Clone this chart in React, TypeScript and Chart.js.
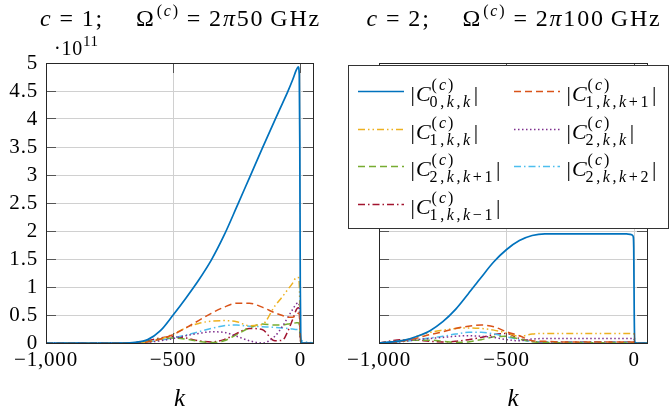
import React, { useEffect, useRef } from "react";
import { Chart, registerables } from "chart.js";

Chart.register(...registerables);

const SERIF = '"Liberation Serif", "DejaVu Serif", serif';

// sample positions k
const K = [-1000, -950, -900, -850, -800, -750, -700, -650, -600, -550, -500, -450, -400, -350, -300, -250, -200, -150, -100, -70, -50, -30, -15, -8, -4, -2, 0, 2, 5, 10, 20, 35, 50];

const X_TICKS = [-1000, -500, 0];
const X_TICK_LABELS = ["\u22121,000", "\u2212500", "0"];
const Y_TICKS = [0, 0.5, 1, 1.5, 2, 2.5, 3, 3.5, 4, 4.5, 5];
const Y_TICK_LABELS = ["0", "0.5", "1", "1.5", "2", "2.5", "3", "3.5", "4", "4.5", "5"];
const Y_EXPONENT = "11";

// legend subscripts (series order)
const LEGEND_SUBSCRIPTS = ["0,k,k", "1,k,k+1", "1,k,k", "2,k,k", "2,k,k+1", "2,k,k+2", "1,k,k\u22121"];

// panel c = 1, Omega = 2pi 50 GHz  (values in units of 1e11)
const C1_C0KK = [0, 0, 0, 0, 0, 0, 0, 0.01, 0.06, 0.22, 0.5, 0.8, 1.12, 1.48, 1.92, 2.43, 2.95, 3.47, 3.98, 4.28, 4.48, 4.7, 4.88, 4.93, 4.8, 3.6, 1.0, 0.05, 0.01, 0, 0, 0, 0];
const C1_C1KK1 = [0, 0, 0, 0, 0, 0, 0, 0.005, 0.02, 0.07, 0.15, 0.27, 0.4, 0.53, 0.64, 0.71, 0.71, 0.64, 0.54, 0.49, 0.46, 0.46, 0.5, 0.53, 0.52, 0.4, 0.15, 0.03, 0.01, 0, 0, 0, 0];
const C1_C1KK = [0, 0, 0, 0, 0, 0, 0, 0.005, 0.02, 0.07, 0.16, 0.27, 0.35, 0.39, 0.4, 0.38, 0.31, 0.33, 0.66, 0.83, 0.95, 1.07, 1.17, 1.17, 1.05, 0.7, 0.2, 0.03, 0.01, 0, 0, 0, 0];
const C1_C2KK = [0, 0, 0, 0, 0, 0, 0, 0.003, 0.015, 0.04, 0.08, 0.13, 0.17, 0.2, 0.19, 0.12, 0.04, 0.0, 0.12, 0.3, 0.45, 0.6, 0.7, 0.72, 0.65, 0.45, 0.12, 0.02, 0.005, 0, 0, 0, 0];
const C1_C2KK1 = [0, 0, 0, 0, 0, 0, 0, 0.005, 0.03, 0.07, 0.09, 0.07, 0.03, 0.01, 0.04, 0.15, 0.27, 0.34, 0.32, 0.32, 0.34, 0.35, 0.36, 0.36, 0.33, 0.25, 0.08, 0.02, 0.01, 0, 0, 0, 0];
const C1_C2KK2 = [0, 0, 0, 0, 0, 0, 0, 0.005, 0.02, 0.05, 0.09, 0.14, 0.2, 0.26, 0.31, 0.32, 0.3, 0.29, 0.28, 0.27, 0.26, 0.25, 0.24, 0.24, 0.24, 0.22, 0.15, 0.08, 0.05, 0.03, 0.02, 0.01, 0.005];
const C1_C1KKM1 = [0, 0, 0, 0, 0, 0, 0, 0.005, 0.04, 0.09, 0.11, 0.09, 0.04, 0.02, 0.06, 0.17, 0.26, 0.24, 0.04, 0.05, 0.2, 0.42, 0.6, 0.63, 0.58, 0.4, 0.1, 0.02, 0.005, 0, 0, 0, 0];

// panel c = 2, Omega = 2pi 100 GHz
const C2_C0KK = [0, 0.02, 0.05, 0.12, 0.22, 0.38, 0.6, 0.88, 1.17, 1.45, 1.67, 1.83, 1.92, 1.95, 1.95, 1.95, 1.95, 1.95, 1.95, 1.95, 1.95, 1.95, 1.94, 1.93, 1.9, 1.7, 0.5, 0.03, 0.005, 0, 0, 0, 0];
const C2_C1KK1 = [0, 0.01, 0.04, 0.09, 0.15, 0.2, 0.26, 0.3, 0.32, 0.29, 0.2, 0.13, 0.04, 0.03, 0.02, 0.02, 0.02, 0.02, 0.02, 0.02, 0.02, 0.02, 0.02, 0.02, 0.02, 0.015, 0.01, 0, 0, 0, 0, 0, 0];
const C2_C1KK = [0, 0.02, 0.05, 0.12, 0.19, 0.23, 0.26, 0.27, 0.26, 0.23, 0.18, 0.12, 0.16, 0.17, 0.17, 0.17, 0.17, 0.17, 0.17, 0.17, 0.17, 0.17, 0.17, 0.17, 0.17, 0.16, 0.12, 0.06, 0.01, 0, 0, 0, 0];
const C2_C2KK = [0, 0.01, 0.03, 0.06, 0.08, 0.1, 0.12, 0.13, 0.12, 0.1, 0.06, 0.04, 0.07, 0.08, 0.08, 0.08, 0.08, 0.08, 0.08, 0.08, 0.08, 0.08, 0.08, 0.08, 0.08, 0.08, 0.06, 0.03, 0, 0, 0, 0, 0];
const C2_C2KK1 = [0, 0.02, 0.04, 0.05, 0.05, 0.03, 0.01, 0.02, 0.06, 0.11, 0.12, 0.07, 0.02, 0.01, 0.005, 0.005, 0.005, 0.005, 0.005, 0.005, 0.005, 0.005, 0.005, 0.005, 0.005, 0.005, 0.003, 0, 0, 0, 0, 0, 0];
const C2_C2KK2 = [0, 0.01, 0.03, 0.06, 0.09, 0.12, 0.16, 0.19, 0.19, 0.16, 0.11, 0.06, 0.03, 0.02, 0.015, 0.015, 0.015, 0.015, 0.015, 0.015, 0.015, 0.015, 0.015, 0.015, 0.015, 0.015, 0.012, 0.008, 0.004, 0, 0, 0, 0];
const C2_C1KKM1 = [0, 0.04, 0.06, 0.05, 0.03, 0.02, 0.03, 0.06, 0.1, 0.15, 0.17, 0.08, 0.03, 0.02, 0.02, 0.02, 0.02, 0.02, 0.02, 0.02, 0.02, 0.02, 0.02, 0.02, 0.02, 0.02, 0.01, 0, 0, 0, 0, 0, 0];

const PANEL_C = ["1", "2"];
const PANEL_FREQ = ["50", "100"];

// styles
const COLORS = ["#0072bd", "#d95319", "#edb120", "#7e2f8e", "#77ac30", "#4dbeee", "#a2142f"];
const DASHES: number[][] = [[], [7, 4], [7, 3, 1.5, 3, 1.5, 3], [1.5, 2.5], [7, 4], [7, 3, 1.5, 3], [7, 3, 1.5, 3]];
const GRID = "#d0d0d0";
const TICK_COLOR = "#555555";
const FRAME = "#262626";
const TL = 10;

type Run = { t: string; size: number; it?: boolean; dy?: number; gap?: number; ls?: number };

function setFont(ctx: CanvasRenderingContext2D, r: Run) {
  ctx.font = `${r.it ? "italic " : ""}${r.size}px ${SERIF}`;
  (ctx as any).letterSpacing = `${r.ls || 0}px`;
}
function runsWidth(ctx: CanvasRenderingContext2D, runs: Run[]) {
  let w = 0;
  for (const r of runs) {
    setFont(ctx, r);
    w += (r.gap || 0) + ctx.measureText(r.t).width;
  }
  (ctx as any).letterSpacing = "0px";
  return w;
}
function drawRuns(ctx: CanvasRenderingContext2D, runs: Run[], x: number, y: number) {
  let cx = x;
  for (const r of runs) {
    cx += r.gap || 0;
    setFont(ctx, r);
    ctx.fillText(r.t, cx, y + (r.dy || 0));
    cx += ctx.measureText(r.t).width;
  }
  (ctx as any).letterSpacing = "0px";
  return cx;
}
function scriptRuns(s: string, size: number, ls: number): Run[] {
  return s.split("").map((ch) => ({ t: ch, size, it: /[a-z]/.test(ch), ls }));
}

function alignPx(p: number) {
  return Math.round(p - 0.5) + 0.5;
}

// wider tick lettering, closer to the Computer Modern look
const spacingPlugin = {
  id: "spacing",
  beforeDraw(chart: any) { (chart.ctx as any).letterSpacing = "0.8px"; },
  beforeDatasetsDraw(chart: any) { (chart.ctx as any).letterSpacing = "0px"; },
};

const framePlugin = {
  id: "frame",
  afterDatasetsDraw(chart: any) {
    const { ctx, chartArea: a, scales } = chart;
    ctx.save();
    ctx.lineWidth = 1;
    ctx.setLineDash([]);
    ctx.strokeStyle = TICK_COLOR;
    ctx.beginPath();
    for (const v of Y_TICKS) {
      const py = alignPx(scales.y.getPixelForValue(v));
      ctx.moveTo(a.left, py);
      ctx.lineTo(a.left + TL, py);
      ctx.moveTo(a.right - TL, py);
      ctx.lineTo(a.right, py);
    }
    for (const v of X_TICKS) {
      const px = alignPx(scales.x.getPixelForValue(v));
      ctx.moveTo(px, a.bottom);
      ctx.lineTo(px, a.bottom - TL);
      ctx.moveTo(px, a.top);
      ctx.lineTo(px, a.top + TL);
    }
    ctx.stroke();
    ctx.strokeStyle = FRAME;
    const l = alignPx(a.left), r = alignPx(a.right), t = alignPx(a.top), b = alignPx(a.bottom);
    ctx.strokeRect(l, t, r - l, b - t);
    ctx.restore();
  },
};

function makeTextPlugin(panel: number) {
  return {
    id: "texts" + panel,
    afterDraw(chart: any) {
      const { ctx, chartArea: a } = chart;
      ctx.save();
      ctx.fillStyle = "#000";
      ctx.textBaseline = "alphabetic";
      ctx.textAlign = "left";
      // title
      const T = 24, S = 16, LS = 1.8;
      const title: Run[] = [
        { t: "c", size: T, it: true, ls: LS },
        { t: "=", size: T, gap: 7, ls: LS },
        { t: PANEL_C[panel] + ";", size: T, gap: 7, ls: LS },
        { t: "\u03a9", size: T, gap: 32, ls: LS },
        { t: "(", size: S, dy: -10, gap: 1, ls: LS },
        { t: "c", size: S, it: true, dy: -10, ls: LS },
        { t: ")", size: S, dy: -10, ls: LS },
        { t: "=", size: T, gap: 7, ls: LS },
        { t: "2", size: T, gap: 7, ls: LS },
        { t: "\u03c0", size: T, it: true, ls: LS },
        { t: PANEL_FREQ[panel], size: T, ls: LS },
        { t: "GHz", size: T, gap: 6, ls: LS },
      ];
      const tw = runsWidth(ctx, title);
      drawRuns(ctx, title, (a.left + a.right) / 2 - tw / 2 + 1, 26);
      // k axis label
      (ctx as any).letterSpacing = "0px";
      ctx.font = `italic 25px ${SERIF}`;
      ctx.textAlign = "center";
      ctx.fillText("k", (a.left + a.right) / 2, 406);
      ctx.textAlign = "left";
      if (panel === 0) {
        drawRuns(ctx, [
          { t: "\u00b710", size: 20, ls: 0.8 },
          { t: Y_EXPONENT, size: 15, dy: -9, ls: 0.6 },
        ], 54, 55);
      } else {
        // legend
        const bx = 13.5, by = 65.5, bw = 320, bh = 163;
        ctx.fillStyle = "#fff";
        ctx.fillRect(bx, by, bw, bh);
        ctx.strokeStyle = "#333";
        ctx.lineWidth = 1;
        ctx.setLineDash([]);
        ctx.strokeRect(bx, by, bw, bh);
        for (let i = 0; i < LEGEND_SUBSCRIPTS.length; i++) {
          const col = i % 2, row = Math.floor(i / 2);
          const lx = col ? 179 : 23;
          const ly = Math.round(90.7 + 37.8 * row) + 0.5;
          ctx.strokeStyle = COLORS[i];
          ctx.lineWidth = 1.5;
          ctx.setLineDash(DASHES[i]);
          ctx.beginPath();
          ctx.moveTo(lx, ly);
          ctx.lineTo(lx + 46, ly);
          ctx.stroke();
          ctx.setLineDash([]);
          ctx.fillStyle = "#000";
          const tx = col ? 231.5 : 75.5;
          const base = ly + 9;
          let x = drawRuns(ctx, [{ t: "|", size: 22 }], tx, base);
          x = drawRuns(ctx, [{ t: "C", size: 22, it: true, gap: 1 }], x, base);
          const supEnd = drawRuns(ctx, [
            { t: "(", size: 16, ls: 2 },
            { t: "c", size: 16, it: true, ls: 2 },
            { t: ")", size: 16, ls: 2 },
          ], x + 1, base - 11);
          const subEnd = drawRuns(ctx, scriptRuns(LEGEND_SUBSCRIPTS[i], 16, 2.6), x - 1, base + 6);
          drawRuns(ctx, [{ t: "|", size: 22 }], Math.max(supEnd, subEnd) + 1, base);
        }
      }
      ctx.restore();
    },
  };
}

function makeConfig(panel: number): any {
  const series = panel === 0
    ? [C1_C0KK, C1_C1KK1, C1_C1KK, C1_C2KK, C1_C2KK1, C1_C2KK2, C1_C1KKM1]
    : [C2_C0KK, C2_C1KK1, C2_C1KK, C2_C2KK, C2_C2KK1, C2_C2KK2, C2_C1KKM1];
  const yWidth = panel === 0 ? 46 : 44;
  const padRight = panel === 0 ? 22 : 23;
  return {
    type: "line",
    data: {
      datasets: series.map((vals, i) => ({
        label: LEGEND_SUBSCRIPTS[i],
        data: K.map((k, j) => ({ x: k, y: vals[j] })),
        borderColor: COLORS[i],
        borderWidth: i === 0 ? 1.7 : 1.5,
        borderDash: DASHES[i],
        pointRadius: 0,
        fill: false,
        cubicInterpolationMode: "monotone",
      })),
    },
    options: {
      animation: false,
      responsive: true,
      maintainAspectRatio: false,
      layout: { padding: { left: 0, right: padRight, top: 63, bottom: 0 } },
      plugins: { legend: { display: false }, tooltip: { enabled: false }, title: { display: false } },
      scales: {
        x: {
          type: "linear",
          min: -1000,
          max: 50,
          afterBuildTicks: (s: any) => { s.ticks = X_TICKS.map((v) => ({ value: v })); },
          afterFit: (s: any) => { s.height = 72; },
          grid: { color: GRID, lineWidth: 1, drawTicks: false },
          border: { display: false },
          ticks: {
            color: "#000",
            font: { family: SERIF, size: 21 },
            padding: 5,
            maxRotation: 0,
            autoSkip: false,
            callback: (v: number) => X_TICK_LABELS[X_TICKS.indexOf(v)] ?? "",
          },
        },
        y: {
          type: "linear",
          min: 0,
          max: 5,
          afterBuildTicks: (s: any) => { s.ticks = Y_TICKS.map((v) => ({ value: v })); },
          afterFit: (s: any) => { s.width = yWidth; },
          grid: { color: GRID, lineWidth: 1, drawTicks: false },
          border: { display: false },
          ticks: {
            display: panel === 0,
            color: "#000",
            font: { family: SERIF, size: 21 },
            padding: 8,
            autoSkip: false,
            callback: (v: number) => Y_TICK_LABELS[Y_TICKS.indexOf(v)] ?? "",
          },
        },
      },
    },
    plugins: [spacingPlugin, framePlugin, makeTextPlugin(panel)],
  };
}

export default function App() {
  const leftRef = useRef<HTMLCanvasElement>(null);
  const rightRef = useRef<HTMLCanvasElement>(null);
  useEffect(() => {
    document.body.style.margin = "0";
    const c1 = new Chart(leftRef.current!, makeConfig(0));
    const c2 = new Chart(rightRef.current!, makeConfig(1));
    return () => {
      c1.destroy();
      c2.destroy();
    };
  }, []);
  return (
    <div style={{ position: "absolute", left: 0, top: 0, width: 670, height: 415, background: "#fff" }}>
      <div style={{ position: "absolute", left: 0, top: 0, width: 335, height: 415 }}>
        <canvas ref={leftRef} />
      </div>
      <div style={{ position: "absolute", left: 335, top: 0, width: 335, height: 415 }}>
        <canvas ref={rightRef} />
      </div>
    </div>
  );
}
